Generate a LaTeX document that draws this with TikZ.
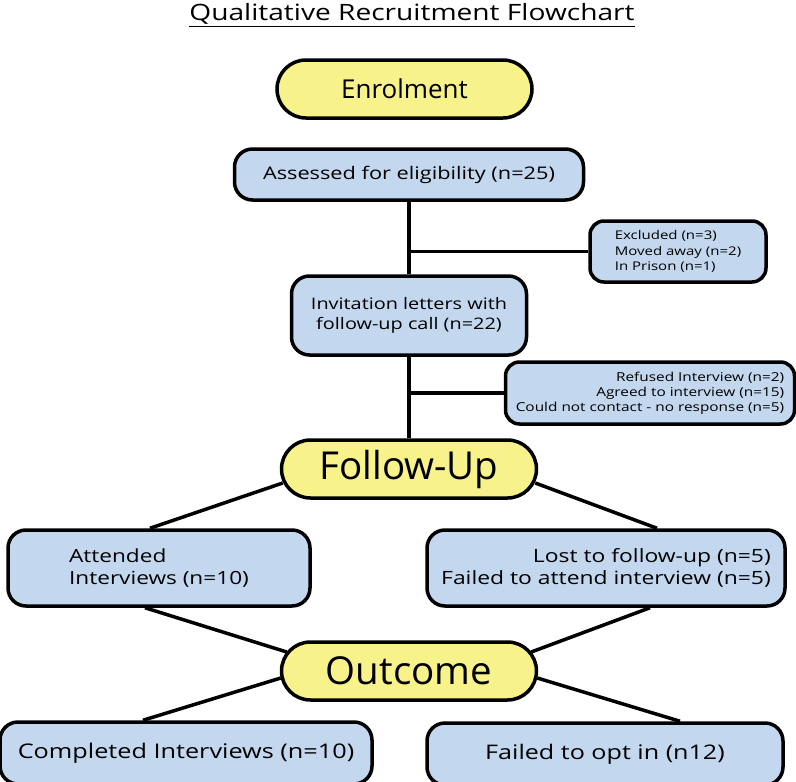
\documentclass[tikz,border=0pt]{standalone}
\usepackage{fontspec}
\setmainfont{Open Sans}
\newfontfamily\widefont{Open Sans}[FakeStretch=1.25]
\usetikzlibrary{shapes.misc}
\definecolor{stageyellow}{HTML}{F7F28A}
\definecolor{boxblue}{HTML}{C3D7EE}
\tikzset{stage/.style={rounded rectangle,draw,line width=3.5pt,fill=stageyellow,
           minimum width=255pt,minimum height=58pt,inner sep=0pt},
         box/.style={draw,line width=3.5pt,fill=boxblue,rounded corners=18pt,
           inner sep=0pt,align=center},
         note/.style={box,rounded corners=14pt},
         link/.style={draw,line width=3.5pt}}

\begin{document}
\begin{tikzpicture}[x=1pt,y=-1pt]
\useasboundingbox (0,0) rectangle (796,782);
\clip (0,0) rectangle (796,782);
\node (title) at (412,15) {\widefont\fontsize{22.5}{26}\selectfont\underline{Qualitative Recruitment Flowchart}};
% stages
\node[stage,font=\fontsize{26}{30}\selectfont] (enrol) at (404.5,89) {Enrolment};
\node[stage,font=\fontsize{38.5}{42}\selectfont] (follow) at (409,469) {Follow-Up};
\node[stage,font=\fontsize{38.5}{42}\selectfont] (outcome) at (409,671) {Outcome};
% boxes
\node[box,minimum width=349pt,minimum height=51pt,font=\widefont\fontsize{17.4}{20}\selectfont]
  (assess) at (409,174.5) {Assessed for eligibility (n=25)};
\node[box,minimum width=235pt,minimum height=79pt,font=\widefont\fontsize{15.9}{20}\selectfont]
  (invite) at (409,315.5) {Invitation letters with\\follow-up call (n=22)};
\node[note,align=left,minimum width=176pt,minimum height=61pt,font=\widefont\fontsize{12}{15.5}\selectfont]
  (excl) at (678,251.5) {Excluded (n=3)\\Moved away (n=2)\\In Prison (n=1)};
\node[note,align=right,minimum width=289pt,minimum height=62pt,font=\widefont\fontsize{12.3}{15}\selectfont]
  (refuse) at (650,393) {Refused Interview (n=2)\\Agreed to interview (n=15)\\Could not contact - no response (n=5)};
\node[box,align=left,minimum width=302pt,minimum height=76pt,font=\widefont\fontsize{18.1}{22.5}\selectfont]
  (attend) at (159,568) {Attended\\Interviews (n=10)};
\node[box,align=right,minimum width=358pt,minimum height=76pt,font=\widefont\fontsize{18.3}{21.5}\selectfont]
  (lost) at (606,568) {Lost to follow-up (n=5)\\Failed to attend interview (n=5)};
\node[box,minimum width=372pt,minimum height=62pt,font=\widefont\fontsize{20.2}{24}\selectfont]
  (complete) at (186,753) {Completed Interviews (n=10)};
\node[box,minimum width=356pt,minimum height=62pt,font=\widefont\fontsize{20.1}{24}\selectfont]
  (failed) at (605,754) {Failed to opt in (n12)};
% connectors
\draw[link] (assess.south) -- (invite.north);
\draw[link] (invite.south) -- (follow.north);
\draw[link] (assess.south |- excl.west) -- (excl.west);
\draw[link] (invite.south |- refuse.west) -- (refuse.west);
\draw[link] ([xshift=3pt,yshift=-14pt]follow.west) -- ([xshift=-9pt]attend.north);
\draw[link] ([xshift=-3pt,yshift=-14pt]follow.east) -- ([xshift=51pt]lost.north);
\draw[link] ([xshift=-14pt]attend.south) -- ([xshift=7pt,yshift=19pt]outcome.west);
\draw[link] ([xshift=44pt]lost.south) -- ([xshift=-7pt,yshift=19pt]outcome.east);
\draw[link] ([xshift=1pt,yshift=-7pt]outcome.west) -- ([xshift=-43pt]complete.north);
\draw[link] ([xshift=-1pt,yshift=-7pt]outcome.east) -- ([xshift=75pt]failed.north);
\end{tikzpicture}
\end{document}
